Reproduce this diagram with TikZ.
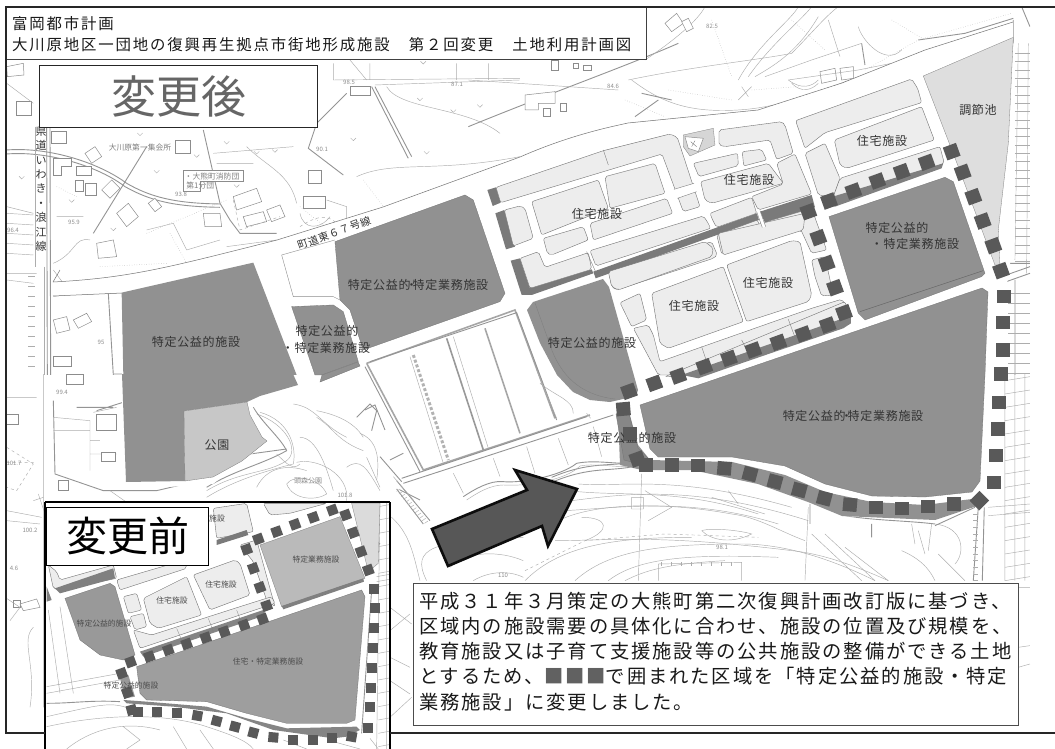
\documentclass[tikz,border=0pt]{standalone}
\usepackage{fontspec}
\setmainfont{Noto Sans CJK JP}
\newfontfamily\lsA[LetterSpace=10]{Noto Sans CJK JP}
\newfontfamily\lsB[LetterSpace=12]{Noto Sans CJK JP}
\newfontfamily\lsC[LetterSpace=6]{Noto Sans CJK JP}
\tikzset{
 zA/.style={shift={(0,0)},scale=0.3333},
 zB/.style={shift={(525,0)},scale=0.3333},
 zC/.style={shift={(0,374)},scale=0.3333},
 zD/.style={shift={(525,374)},scale=0.3333},
 zE/.style={shift={(470,130)},scale=0.3333},
 zF/.style={shift={(360,300)},scale=0.3333},
 zG/.style={shift={(40,500)},scale=0.3333},
 mapl/.style={draw=black!32,line width=0.45pt},
 mapd/.style={draw=black!42,line width=0.9pt},
 mapt/.style={draw=black!55,line width=1.6pt},
 bld/.style={draw=black!45,line width=0.5pt,fill=white},
 dkb/.style={fill=black!43,draw=black!55,line width=0.3pt},
 dks/.style={fill=black!43},
 lgt/.style={fill=black!7,draw=black!55,line width=0.4pt,rounded corners=2pt},
 mid/.style={fill=black!14,draw=black!50,line width=0.3pt},
 lab/.style={font=\lsC\fontsize{12}{14}\selectfont,text=black!80,inner sep=0pt},
 labs/.style={font=\fontsize{7.8}{9}\selectfont,text=black!70,inner sep=0pt},
 elev/.style={font=\fontsize{6}{7}\selectfont\itshape,text=black!45,inner sep=0pt},
 sq/.style={fill=black!65},
 boxw/.style={fill=white,draw=black!75,line width=0.8pt},
}
\begin{document}
\begin{tikzpicture}[x=1pt,y=-1pt]
\useasboundingbox (0,0) rectangle (1055,749);
\fill[white] (0,0) rectangle (1055,749);
\begin{scope}
\clip (7,7) rectangle (1030,733);
% ---------- base map, upper left
\begin{scope}[zA]
\draw[mapd] (20,450) .. controls (150,440) and (300,490) .. (380,550) .. controls (450,590) and (520,610) .. (660,612);
\draw[mapd] (20,462) .. controls (150,452) and (300,502) .. (375,560) .. controls (450,602) and (520,620) .. (660,622);
\draw[mapd] (140,380) -- (142,1125) (150,380) -- (152,1125);
\draw[mapl] (105,380) -- (105,800) (132,800) -- (132,1125);
\draw[mapd] (440,440) -- (280,700);
\draw[mapd] (610,390) -- (660,610) -- (690,660) -- (720,700) -- (830,700);
\draw[bld] (160,475)--(215,475)--(215,500)--(185,500)--(185,525)--(160,525)--cycle;
\draw[bld] (255,460)--(285,440)--(305,470)--(275,490)--cycle;
\draw[bld] (230,500)--(275,500)--(275,525)--(230,525)--cycle;
\draw[bld] (225,540)--(250,540)--(250,575)--(225,575)--cycle;
\draw[bld] (255,550)--(290,550)--(290,585)--(255,585)--cycle;
\draw[bld] (305,570)--(335,540)--(360,565)--(330,595)--cycle;
\draw[bld] (350,640)--(385,610)--(415,650)--(380,680)--cycle;
\draw[bld] (445,610)--(465,595)--(485,620)--(465,635)--cycle;
\draw[bld] (525,420)--(570,420)--(570,460)--(525,460)--cycle;
\draw[bld] (700,590)--(770,565)--(785,605)--(710,630)--cycle;
\draw[bld] (910,590)--(975,590)--(975,625)--(910,625)--cycle;
\draw[bld] (925,510)--(965,510)--(965,550)--(925,550)--cycle;
\draw[bld] (50,305)--(95,305)--(95,345)--(50,345)--cycle;
\draw[bld] (155,395)--(200,395)--(200,430)--(155,430)--cycle;
\draw[bld] (1050,258)--(1110,258)--(1110,285)--(1050,285)--cycle;
\draw[bld] (20,200)--(70,190)--(72,225)--(22,230)--cycle;
\draw[bld] (610,640)--(660,640)--(665,680)--(615,680)--cycle;
\draw[bld] (550,510)--(730,510)--(730,545)--(600,545)--(600,575)--(550,575)--cycle;
\draw[bld] (290,730)--(340,720)--(350,770)--(295,775)--cycle;
\draw[bld] (160,960)--(200,950)--(210,990)--(170,1000)--cycle;
\draw[bld] (220,960)--(260,940)--(275,965)--(235,985)--cycle;
\draw[bld] (160,1070)--(215,1070)--(215,1100)--(160,1100)--cycle;
\draw[bld] (730,650)--(790,635)--(800,665)--(740,680)--cycle;
\draw[bld] (800,630)--(840,615)--(855,650)--(815,665)--cycle;
\draw[mapl] (900,640) .. controls (910,690) and (960,690) .. (990,650) (980,600)--(1040,620)--(1040,680);
\draw[mapd] (1040,280)--(950,370)--(925,445)--(1030,525);
\draw[mapd] (1115,260)--(1225,475) (1125,260)--(1235,470);
\draw[mapl] (1125,255)--(1560,240) (1100,240)--(1050,180) (1160,260) .. controls (1200,330) and (1400,320) .. (1500,400);
\draw[mapl] (1000,190)--(1000,240)--(1560,235) (1370,190)--(1370,240) (1465,190)--(1465,240) (1110,190)--(1110,240);
\draw[mapl] (1070,530) .. controls (1180,480) and (1300,520) .. (1560,470);
\draw[mapl] (890,610) .. controls (870,520) and (800,500) .. (740,440) (640,460)--(880,440) (650,490)--(760,490);
\draw[mapl] (170,650)--(250,650) (270,720) .. controls (220,710) and (230,760) .. (160,790) (440,690)--(520,670)--(560,750)--(660,720);
\draw[mapl,dotted] (510,700)--(560,790) (300,800)--(500,790) (900,620)--(1000,700) (1090,540)--(1150,620) (170,560)--(230,590) (440,700)--(680,600);
\draw[mapl] (20,620)--(100,640) (20,820)--(110,820) (20,250)--(100,310) (20,840)--(100,850);
\foreach \y in {830,860,...,1120} {\draw[mapl] (85,\y)--(105,\y);}
\foreach \y in {640,670,...,760} {\draw[mapl] (20,\y)--(100,{\y+5});}
\draw[mapl] (160,810)--(190,850) (160,850)--(190,850) (680,740)--(830,720);
\draw[mapl,dashed] (700,600)--(720,690)--(840,650) (900,680) .. controls (960,640) and (1000,640) .. (1030,700);
\draw[mapd] (160,885)--(365,878) (325,880)--(340,1125);
\draw[mapl] (160,890)--(220,880);
\foreach \x/\y in {470,517/1,65,535/1,215,605/1,420,405/1} {}
\foreach \x/\y in {470/517,65/535,215/605,420/405,770/460,825/455,680/430,710/560,340/690,590/470,1060/420,1260/300,1360/335,1280/460,1440/320,1270/190}
 {\draw[mapl] (\x-8,\y-6)--(\x,\y+2)--(\x+8,\y-6);}
\end{scope}
% ---------- base map, upper right
\begin{scope}[zB]
\draw[mapd] (-170,380) .. controls (100,270) and (300,200) .. (460,130);
\draw[mapl] (-170,240)--(280,270) (320,240) .. controls (400,300) and (480,340) .. (640,330) .. controls (800,320) and (900,260) .. (1120,190);
\draw[mapl] (310,240) .. controls (500,200) and (700,180) .. (800,160) .. controls (860,100) and (900,50) .. (940,20);
\draw[mapl] (360,180) .. controls (450,120) and (520,60) .. (540,20);
\draw[mapl] (640,240) .. controls (700,130) and (800,60) .. (820,20) (670,230) .. controls (740,130) and (830,60) .. (860,20);
\draw[mapl] (690,230) .. controls (760,190) and (820,150) .. (880,50) (720,230)--(860,180)--(1010,130);
\draw[mapd] (350,280)--(440,300) (330,350)--(400,300);
\draw[bld] (420,70)--(455,40)--(475,70)--(440,95)--cycle;
\draw[bld] (470,65)--(490,55)--(505,85)--(485,95)--cycle;
\draw[bld] (885,215)--(930,205)--(935,240)--(890,250)--cycle;
\draw[bld] (945,205)--(985,200)--(985,235)--(950,240)--cycle;
\draw[bld] (0,285)--(90,275)--(90,310)--(40,310)--(40,330)--(0,330)--cycle;
\draw[bld] (55,325)--(75,325)--(75,350)--(55,350)--cycle;
\draw[bld] (105,310)--(125,310)--(125,335)--(105,335)--cycle;
\draw[bld] (80,180)--(100,180)--(100,210)--(80,210)--cycle;
\draw[bld] (145,190)--(160,190)--(160,205)--(145,205)--cycle;
\draw[bld] (175,195)--(200,195)--(200,210)--(175,210)--cycle;
\draw[mapd] (1010,130)--(1020,195) (1180,120)--(1320,100)--(1465,55);
\draw[mapl] (1000,80) .. controls (1010,120) and (1080,200) .. (1130,150) (790,240)--(1000,210)--(1100,190);
\draw[mapl] (910,60)--(945,170) (650,260)--(670,290) (640,300)--(680,260);
\draw[mapl] (790,240) .. controls (830,270) and (860,260) .. (880,240) (800,250) .. controls (830,280) and (860,270) .. (880,250);
\draw[mapl,dotted] (560,60)--(620,230) (800,60)--(900,150) (1180,120)--(1460,40) (1100,60)--(1200,120) (300,300)--(420,350) (430,270)--(620,300) (1020,210)--(1180,120) (680,270)--(820,260);
\draw[mapd] (1465,60)--(1465,130) (1490,20)--(1515,80);
\draw[mapl] (1480,130)--(1470,780) (1510,130)--(1505,820);
\foreach \y in {160,185,...,790} {\draw[mapl] (1470,\y)--(1515,\y);}
\draw[mapd] (1455,420)--(1420,690)--(1440,800) (1430,670)--(1450,680)--(1450,790)--(1515,790);
\draw[mapd] (1430,830)--(1515,800) (1430,850)--(1515,820) (1425,860)--(1415,1125) (1470,840)--(1470,1125);
\foreach \y in {880,910,...,1125} {\draw[mapl] (1450,\y)--(1515,\y);}
\end{scope}
% ---------- base map, lower left
\begin{scope}[zC]
\draw[mapd] (160,80)--(165,300)--(310,350)--(470,350)--(640,310)--(750,240)--(860,225);
\draw[mapd] (230,100)--(340,100) (340,0)--(385,0)--(385,80)--(290,110);
\draw[mapl] (160,130)--(270,140)--(270,290) (160,170)--(270,170) (270,240)--(350,240) (280,115)--(350,100) (270,200)--(300,200);
\draw[bld] (290,120)--(350,120)--(350,170)--(290,170)--cycle;
\draw[bld] (305,235)--(345,235)--(345,262)--(305,262)--cycle;
\draw[bld] (20,120)--(55,120)--(55,150)--(20,150)--cycle;
\draw[bld] (175,320)--(205,320)--(205,350)--(175,350)--cycle;
\draw[bld] (200,0)--(250,0)--(250,30)--(200,30)--cycle;
\draw[bld] (40,680)--(60,680)--(60,700)--(40,700)--cycle;
\draw[bld] (60,690)--(110,675)--(120,700)--(70,710)--cycle;
\draw[mapl] (20,70)--(110,70) (130,0)--(130,1000) (20,410)--(125,430) (20,440)--(120,450);
\draw[mapl,dashed] (20,220)--(100,270)--(50,350)--(20,340) (20,265)--(105,265);
\draw[mapl] (15,670)--(60,700)--(30,740) (100,760) .. controls (60,800) and (110,870) .. (90,1000);
\draw[mapl] (115,360)--(135,420) (330,350)--(380,385) (100,380)--(130,370);
\draw[mapl] (770,120) .. controls (860,150) and (900,230) .. (860,260) .. controls (800,300) and (720,290) .. (620,350);
\draw[mapd] (760,100) .. controls (790,150) and (840,190) .. (860,230) .. controls (790,270) and (700,290) .. (620,340);
\draw[mapl] (780,115) .. controls (870,140) and (890,220) .. (880,270) .. controls (800,290) and (700,320) .. (620,370);
\draw[mapl] (830,240) .. controls (860,270) and (880,290) .. (900,270);
\draw[mapl] (880,90) .. controls (950,100) and (960,150) .. (1040,190);
\draw[mapl] (950,130) .. controls (1000,160) and (1010,200) .. (1090,230);
\draw[mapl] (900,190) .. controls (950,190) and (980,280) .. (1000,350);
\draw[mapl] (860,330) .. controls (880,300) and (960,310) .. (980,360) .. controls (950,380) and (880,380) .. (860,330);
\draw[mapl] (890,265) .. controls (950,250) and (1050,300) .. (1040,380);
\draw[mapl] (770,340) .. controls (800,280) and (860,270) .. (920,290);
\draw[mapl] (1040,280) .. controls (1080,250) and (1100,280) .. (1140,350) (1100,250)--(1140,340);
\draw[mapd] (1070,130)--(1110,90)--(1130,110)--(1115,170);
\draw[mapl] (950,110) .. controls (1000,120) and (1060,140) .. (1090,190);
\draw[mapl] (1175,430) .. controls (1230,480) and (1240,540) .. (1260,620) (1280,620) .. controls (1230,520) and (1300,500) .. (1570,490) (1350,580) .. controls (1400,530) and (1500,530) .. (1570,560) (1420,620) .. controls (1470,590) and (1530,590) .. (1570,610);
\draw[mapl] (1170,700)--(1235,750) (1170,770)--(1230,720) (1170,850)--(1230,880) (1170,920)--(1230,960);
\draw[mapl] (1170,1030)--(1235,970);
\draw[mapd] (1190,320)--(1290,440) (1190,345)--(1270,450);
\foreach \k in {0,1,...,12} {\draw[mapl] ({1200+\k*7},{345+\k*8})--({1190+\k*7},{352+\k*8});}
\end{scope}
% ---------- base map, lower right
\begin{scope}[zD]
\draw[mapd] (80,310) .. controls (200,260) and (250,280) .. (340,262) (80,325) .. controls (200,275) and (250,295) .. (340,275);
\draw[mapl] (160,330) .. controls (300,340) and (450,300) .. (800,400) (140,380) .. controls (300,360) and (500,330) .. (850,440);
\draw[mapl] (100,440) .. controls (200,390) and (400,380) .. (620,420) .. controls (700,430) and (760,470) .. (840,500);
\draw[mapl] (90,500) .. controls (250,500) and (400,480) .. (800,530) .. controls (900,540) and (1000,580) .. (1090,620);
\draw[mapl] (0,620) .. controls (100,520) and (250,490) .. (500,490);
\draw[mapl] (150,620) .. controls (250,530) and (400,510) .. (650,510) .. controls (800,510) and (950,570) .. (1050,620);
\draw[mapl] (250,620) .. controls (340,550) and (500,540) .. (760,550) (300,620) .. controls (360,590) and (420,570) .. (600,560);
\draw[mapl] (180,500) .. controls (260,470) and (250,430) .. (170,430) (530,470) .. controls (560,460) and (650,470) .. (680,480) .. controls (620,510) and (560,500) .. (530,470);
\draw[mapl] (350,300)--(340,620) (320,370)--(355,370)--(355,405)--(320,405)--cycle (360,350)--(440,400)--(370,440) (560,370)--(720,420) (610,350)--(640,390);
\draw[mapl] (130,350) .. controls (300,370) and (450,340) .. (700,420) (120,410) .. controls (300,400) and (500,370) .. (760,450);
\draw[mapl,dashed] (0,590)--(180,500)--(420,480)--(700,490);
\draw[mapl] (400,570)--(650,565)--(650,620) (400,570)--(400,620);
\foreach \x in {410,440,...,640} {\draw[mapl] (\x,565)--(\x,575);}
\draw[mapd] (855,390)--(855,450) (1040,450)--(1040,490) (960,425) .. controls (1050,440) and (1150,440) .. (1230,450);
\draw[mapl] (850,400)--(840,620) (860,480)--(1010,620) (900,480)--(1050,620) (960,520)--(1090,620);
\draw[mapl] (1160,450)--(1170,510) (1220,450)--(1210,530) (1180,470)--(1200,540) (1230,450) .. controls (1320,460) and (1320,540) .. (1290,570);
\draw[mapd] (1230,455)--(1350,400);
\draw[mapl] (1130,530) .. controls (1200,560) and (1220,600) .. (1230,620) (1240,540)--(1320,620);
\draw[mapd] (1360,400)--(1345,620) (1378,400)--(1372,620);
\foreach \y in {420,440,...,620} {\draw[mapl] (1345,\y)--(1358,\y);}
\draw[mapl] (1390,400)--(1515,390) (1390,425)--(1515,415) (1440,0)--(1440,620) (1470,0)--(1470,620) (1500,0)--(1500,620);
\foreach \y in {20,60,...,620} {\draw[mapl] (1440,\y)--(1515,{\y-12});}
\draw[mapl] (1480,640)--(1515,640) (1480,820)--(1515,815) (1480,880)--(1515,870);
\end{scope}
% ---------- the site hides the old map
\fill[white] (53,282) .. controls (130,278) and (170,267) .. (277,240) -- (383,207) -- (520,157) .. controls (570,135) and (610,127) .. (628,123) -- (758,110) -- (842,83) -- (925,50) -- (1013,22) -- (1010,270) -- (1003,300) -- (1000,500) -- (980,505) -- (935,520) -- (842,516) -- (808,502) -- (758,484) -- (692,470) -- (642,470) -- (620,465) -- (613,415) -- (403,485) -- (366,365) -- (300,385) -- (250,402) -- (270,441) -- (242,461) -- (213,484) -- (122,490) -- (122,293) -- (53,296) -- cycle;
\draw[black!55,line width=0.5pt] (53,282) .. controls (130,278) and (170,267) .. (277,240) -- (383,207) -- (520,157) .. controls (570,135) and (610,127) .. (628,123) -- (758,110) -- (842,83) -- (925,50) -- (1013,22);
\draw[black!55,line width=0.5pt] (53,296) -- (122,293) (53,282) -- (60,270);
% ---------- paddies
\begin{scope}[zF]
\draw[mapt,draw=black!35] (20,190)--(465,30)--(585,355);
\draw[mapt,draw=black!35] (20,190)--(190,510)--(690,345);
\draw[mapd] (30,185)--(470,38)--(590,360) (15,200)--(180,515);
\draw[mapt,draw=black!40] (260,115)--(370,450);
\draw[mapt,draw=black!35] (375,85)--(480,400);
\draw[mapt,draw=black!30,line width=3pt,dotted] (160,165)--(265,480);
\draw[mapl] (280,110)--(385,445) (150,170)--(250,490);
\draw[mapd] (130,550)--(760,345) (125,535)--(680,350);
\draw[mapl] (680,340)--(692,355) (400,475)--(420,530) (500,440)--(525,520) (595,415)--(625,495) (700,380)--(725,470) (280,520)--(310,580);
\draw[mapd] (310,590) .. controls (340,570) and (390,540) .. (430,545) .. controls (480,550) and (600,530) .. (650,490) .. controls (700,480) and (750,490) .. (800,490);
\draw[mapl] (320,600) .. controls (350,580) and (390,555) .. (430,555) .. controls (500,560) and (620,540) .. (660,498) .. controls (700,490) and (750,500) .. (800,500);
\draw[mapd] (15,330)--(45,315)--(75,390);
\draw[mapd] (125,545)--(60,470) (90,480)--(130,460) (120,570)--(180,600);
\draw[mapl] (0,400) .. controls (50,420) and (60,470) .. (50,540) (100,530)--(160,600);
\draw[mapl] (530,210)--(590,355) (540,250) .. controls (590,290) and (640,300) .. (640,340);
\end{scope}
% ---------- land use: dark facilities
\begin{scope}[zA]
\fill[dks] (365,878)--(760,788)--(890,1125)--(875,1125)--(370,1125)--cycle;
\draw[dkb] (1005,725)--(1395,585)--(1420,600)--(1515,880)--(1500,905)--(1090,1050)--(1050,930)--(1020,900)--cycle;
\draw[dkb] (875,920)--(1000,915)--(1030,935)--(1075,1085)--(965,1125)--(945,1125)--cycle;
\draw[black!45,line width=0.4pt] (845,765)--(880,890)--(1000,890)--(1030,905) (845,765)--(1005,720);
\end{scope}
\fill[dks] (122,374)--(293,374)--(298,385)--(260,396)--(247,402)--(184,411)--(185,481)--(126,482)--cycle;
\draw[mid,fill=black!22] (184,411)--(247,402)--(250,415)--(262,437)--(267,441)--(242,461)--(213,477)--(185,481)--cycle;
\draw[dkb] (322,375)--(358,362)--(360,366)--(320,382)--cycle;
% big center dark
\fill[dks] (527,310)--(533,302)--(603,279)--(609,287)--(638,390)--(636,396)--(610,402)--(590,400)--(573,392)--(557,375)--(540,343)--cycle;
\draw[black!50,line width=0.4pt] (535,303)--(550,345) .. controls (560,375) and (580,395) .. (615,399);
% big south-east block
\draw[dkb] (640,405)--(982,288)--(988,292)--(985,374)--(980,481)--(972,492)--(925,497)--(872,496)--(825,484)--(785,466)--(732,457)--(658,457)--(650,449)--cycle;
\fill[dks] (618,412)--(628,408)--(638,445)--(650,460)--(732,462)--(785,475)--(825,492)--(872,502)--(925,505)--(972,499)--(980,505)--(935,520)--(842,516)--(808,502)--(758,484)--(692,470)--(642,470)--(620,465)--cycle;
\begin{scope}[zB]
% east dark block
\draw[dkb] (912,650)--(1260,532)--(1285,545)--(1380,820)--(1370,830)--(1020,960)--(1000,940)--cycle;
\draw[black!60,line width=0.5pt] (1005,935)--(1375,812);
% retention pond
\draw[mid,fill=black!13] (1195,228)--(1465,112)--(1450,430)--(1420,690)--(1425,795)--(1410,795)--(1300,500)--cycle;
% dark strips
\fill[black!52] (205,815)--(695,640)--(702,660)--(212,835)--cycle;
\fill[black!52] (705,635)--(860,585)--(870,622)--(720,668)--cycle;
\end{scope}
% ---------- residential blocks
\begin{scope}[zE]
\fill[black!52] (52,180)--(78,172)--(92,218)--(68,228)--cycle;
\fill[black!52] (76,250)--(103,240)--(135,350)--(108,358)--cycle;
\fill[black!52] (122,392)--(150,385)--(180,475)--(365,418)--(370,430)--(185,495)--(155,495)--cycle;
\draw[lgt] (78,172)--(400,62)--(600,12)--(622,22)--(690,230)--(640,245)--(576,72)--(92,218)--cycle;
\draw[lgt] (103,240)--(150,228)--(165,235)--(190,325)--(130,348)--cycle;
\draw[lgt] (150,385)--(205,365)--(225,412)--(355,368)--(365,418)--(180,475)--cycle;
\draw[lgt] (185,215)--(385,150)--(415,235)--(215,315)--cycle;
\draw[lgt] (405,140)--(555,100)--(585,190)--(420,235)--cycle;
\draw[lgt] (220,325)--(340,290)--(355,330)--(245,375)--(232,370)--cycle;
\draw[lgt] (360,280)--(590,205)--(608,250)--(370,330)--cycle;
\draw[lgt] (360,362)--(700,258)--(712,275)--(722,295)--(378,408)--cycle;
\draw[lgt] (418,432)--(725,335)--(742,375)--(730,385)--(440,480)--(425,470)--cycle;
\fill[white] (612,178)--(672,160)--(680,185)--(622,205)--cycle;
\draw[black!50,line width=0.4pt] (612,178)--(672,160) (622,205)--(680,185);
\draw[black!50,line width=0.4pt] (400,60)--(415,105) (350,365)--(378,428);
\end{scope}
\begin{scope}[zB]
\draw[mid,fill=black!16] (475,405)--(565,385)--(570,435)--(495,468)--(475,440)--cycle;
\draw[bld] (480,410)--(535,415)--(520,455)--(490,445)--cycle;
\draw[black!60,line width=0.3pt] (497,425)--(515,440) (510,422)--(500,440);
\draw[lgt] (582,390)--(770,365)--(780,375)--(805,460)--(755,478)--(735,420)--(600,440)--(582,435)--cycle;
\draw[lgt] (505,490)--(638,460)--(640,497)--(522,530)--cycle;
\draw[lgt] (652,455)--(710,448)--(725,480)--(656,498)--cycle;
\draw[lgt] (527,545)--(730,490)--(775,550)--(560,610)--(540,600)--cycle;
\draw[lgt] (755,490)--(810,462)--(860,582)--(700,630)--(680,590)--(775,552)--cycle;
\draw[lgt] (555,640)--(680,592)--(695,640)--(575,682)--(565,665)--cycle;
\draw[lgt] (575,705)--(698,660)--(715,715)--(590,762)--cycle;
\draw[lgt] (725,665)--(860,625)--(905,750)--(860,760)--(828,690)--(730,718)--cycle;
\draw[lgt] (380,880)--(595,800)--(655,965)--(430,1045)--(405,1030)--cycle;
\draw[lgt] (605,795)--(800,722)--(825,725)--(860,885)--(850,905)--(665,965)--cycle;
\draw[lgt] (285,908)--(345,880)--(365,960)--(320,980)--cycle;
\draw[lgt] (325,985)--(370,975)--(385,1005)--(405,1085)--(860,925)--(950,898)--(962,915)--(440,1125)--(400,1125)--(345,1022)--cycle;
\draw[lgt] (250,815)--(540,725)--(565,745)--(560,770)--(280,870)--(260,860)--cycle;
\draw[lgt] (580,700)--(840,640)--(835,690)--(595,765)--cycle;
\draw[lgt] (860,780)--(900,770)--(925,885)--(890,888)--(870,830)--cycle;
\draw[lgt] (812,362)--(1160,237)--(1178,265)--(1190,308)--(900,398)--(840,445)--cycle;
\draw[lgt] (840,460)--(900,430)--(945,535)--(925,590)--(880,585)--cycle;
\draw[lgt] (928,420)--(1190,320)--(1228,420)--(965,505)--(945,495)--cycle;
\draw[lgt] (945,535)--(1245,440)--(1258,490)--(940,605)--(925,590)--cycle;
\fill[black!50] (890,600)--(1255,490)--(1250,505)--(930,620)--cycle;
\draw[lgt] (420,1130)--(960,905)--(975,950)--(950,960)--(530,1125)--cycle;
\fill[black!50] (470,1125)--(955,955)--(978,950)--(978,970)--(955,985)--(620,1100)--(520,1135)--cycle;
\draw[black!50,line width=0.4pt] (790,958)--(815,1025) (650,1020)--(670,1060) (530,1040)--(550,1100);
\end{scope}
% white strips over strips
\begin{scope}[zB]
\fill[white] (695,635)--(705,632)--(722,680)--(712,683)--cycle;
\draw[black!55,line width=0.35pt] (695,635)--(712,683) (705,632)--(722,680);
\end{scope}
% ---------- west small block left of the big one
\draw[dkb,fill=black!47] (616,414)--(628,410)--(638,448)--(650,460)--(640,464)--(624,460)--cycle;
% ---------- squares of the changed zone
\foreach \x/\y/\a in {1280/455/20,1205/487/20,1130/515/20,1057/543/20,985/573/20,912/603/20,850/635/20,880/713/20,905/790/20,930/863/20,957/938/20,908/975/20,835/1002/20,760/1027/20,685/1050/20,612/1075/20,538/1100/20,460/1128/20,1313/517/20,1345/590/20,1373/663/20,1405/737/20,1428/812/20,1437/890/0,1435/968/0,1433/1050/0,1427/1122/0}
 {\fill[sq,shift={(525+\x/3,\y/3)},rotate=\a] (-7,-6.8) rectangle (7,6.8);}
\foreach \x/\y/\a in {1423/85/0,1418/165/0,1412/245/0,1407/325/0,1363/380/45,1288/390/0,1208/397/0,1130/403/0,1052/400/0,975/392/-5,898/373/-15,823/348/-15,750/323/-15,675/300/-15,598/283/-5,520/275/0,442/273/0,362/273/0,337/255/20,315/180/0,295/105/5,312/52/20,388/28/20}
 {\fill[sq,shift={(525+\x/3,374+\y/3)},rotate=\a] (-7,-6.8) rectangle (7,6.8);}
% ---------- arrow
\draw[fill=black!66,draw=black!95,line width=2.6pt,miter limit=10] (432,529)--(527,490)--(515,470)--(577,489)--(548,546)--(542,526)--(448,566)--cycle;
\end{scope}
% ---------- labels on the main map
\node[lab] at (418,285) {特定公益的\kern-5pt・\kern-5pt特定業務施設};
\node[lab] at (327,331) {特定公益的};
\node[lab] at (326,348) {・特定業務施設};
\node[lab] at (196,342) {特定公益的施設};
\node[lab] at (217,445) {公園};
\node[lab] at (592,343) {特定公益的施設};
\node[lab] at (632,438) {特定公益的施設};
\fill[sq] (624,428) rectangle (637,440);
\node[lab] at (853,416) {特定公益的\kern-5pt・\kern-5pt特定業務施設};
\node[lab] at (597,214) {住宅施設};
\node[lab] at (749,180) {住宅施設};
\node[lab] at (882,141) {住宅施設};
\node[lab] at (768,283) {住宅施設};
\node[lab] at (694,306) {住宅施設};
\node[lab] at (978,110) {調節池};
\node[lab] at (897,228) {特定公益的};
\node[lab] at (915,244) {・特定業務施設};
\node[lab,font=\lsC\fontsize{10.5}{12}\selectfont,rotate=20] at (334,233) {町道東６７号線};
\node[lab,font=\fontsize{11}{14.4}\selectfont,align=center] at (41,189) {県\\道\\い\\わ\\き\\・\\浪\\江\\線};
\node[labs,text=black!50] at (140,148) {大川原第一集会所};
\node[labs,text=black!50,align=left] at (212,181) {・大熊町消防団\\\ 第1分団};
\node[labs,text=black!45,font=\fontsize{7}{8}\selectfont] at (308,481) {頭森公園};
\node[elev] at (181,194) {93.8}; \node[elev] at (74,222) {95.9}; \node[elev] at (13,230) {96.4};
\node[elev] at (101,342) {95}; \node[elev] at (62,392) {99.4}; \node[elev] at (30,530) {100.2};
\node[elev] at (14,463) {101.7}; \node[elev] at (14,568) {4.6}; \node[elev] at (349,82) {98.5};
\node[elev] at (457,84) {87.1}; \node[elev] at (322,149) {90.1}; \node[elev] at (613,86) {84.6};
\node[elev] at (712,26) {82.5}; \node[elev] at (345,495) {101.8}; \node[elev] at (722,547) {98.1};
\node[elev] at (503,575) {110};
% ---------- title and change boxes
\draw[boxw] (6,7) rectangle (646,59);
\node[font=\lsB\fontsize{15.4}{18}\selectfont,anchor=west,inner sep=0pt,text=black!90] at (12,24) {富岡都市計画};
\node[font=\lsB\fontsize{15.4}{18}\selectfont,anchor=west,inner sep=0pt,text=black!90] at (12,45) {大川原地区一団地の復興再生拠点市街地形成施設　第２回変更　土地利用計画図};
\draw[fill=white,draw=black!85,line width=0.8pt] (39,65) rectangle (317,127);
\node[font=\fontsize{45}{48}\selectfont,text=black!60,inner sep=0pt] at (179,96) {変更後};
% ---------- inset
\begin{scope}
\clip (45,502) rectangle (390,749);
\fill[white] (45,502) rectangle (390,749);
\begin{scope}[zG]
% map
\draw[mapl] (20,560)--(240,520) (20,580)--(240,540) (60,320)--(100,580) (25,330)--(60,580);
\draw[mapl] (20,650) .. controls (200,610) and (220,600) .. (300,640);
\draw[mapl] (20,680) .. controls (200,640) and (380,640) .. (500,680) .. controls (560,700) and (620,720) .. (640,747);
\draw[mapl] (80,747) .. controls (150,690) and (250,660) .. (360,690) (250,680)--(300,720)--(260,747) (400,680)--(440,747) (480,690)--(520,747);
\draw[mapd] (20,610) .. controls (100,610) and (150,600) .. (240,605);
\draw[mapl] (730,720)--(800,747) (880,725)--(960,747) (990,715)--(1015,747);
\draw[mapl] (1020,0)--(1010,747) (1040,0)--(1040,747) (1060,0)--(1058,747) (1010,230)--(1065,220) (1010,245)--(1065,235);
\foreach \y in {20,60,...,740} {\draw[mapl] (1015,\y)--(1058,{\y-8});}
\draw[mapd] (1000,150)--(1000,200) (1000,150)--(1020,130);
\draw[mapd] (995,270)--(965,700);
% blocks
\draw[mid,fill=black!14] (935,10)--(1020,10)--(1015,190)--(985,215)--cycle;
\draw[lgt] (520,25)--(620,10)--(640,95)--(530,115)--cycle;
\fill[black!52] (530,120)--(620,90)--(625,105)--(530,135)--cycle;
\draw[lgt] (670,10)--(860,10)--(750,40)--(690,45)--cycle;
\draw[lgt] (25,195)--(50,215)--(60,240)--(220,195)--(230,235)--(60,270)--(40,265)--cycle;
\fill[black!50] (45,265)--(220,205)--(225,235)--(60,280)--cycle;
\fill[black!50] (20,260)--(35,300)--(20,305)--cycle;
\draw[lgt] (230,240)--(435,180)--(440,205)--(240,270)--cycle;
\draw[lgt] (600,135)--(650,120)--(705,320)--(680,300)--(640,185)--cycle;
\draw[lgt] (250,290)--(290,280)--(305,330)--(265,340)--cycle;
\draw[lgt] (270,350)--(310,340)--(320,380)--(285,390)--cycle;
\draw[lgt] (335,405)--(600,320)--(695,290)--(705,310)--(300,445)--(280,390)--cycle;
\draw[lgt] (310,295)--(440,230)--(485,345)--(355,385)--(330,370)--cycle;
\draw[lgt] (460,225)--(585,180)--(600,190)--(630,285)--(510,330)--cycle;
\fill[black!48] (300,455)--(670,330)--(678,345)--(310,470)--cycle;
\draw[black!50,line width=0.3pt] (410,385)--(425,420) (505,355)--(520,395) (590,330)--(605,370);
\draw[dkb,fill=black!40] (75,295)--(210,250)--(225,260)--(285,465)--(250,480)--(180,465)--(120,420)--(95,350)--cycle;
\draw[mid,fill=black!27] (660,135)--(900,50)--(975,235)--(725,320)--cycle;
\fill[black!50] (725,318)--(970,235)--(972,245)--(730,328)--cycle;
\draw[dkb,fill=black!38] (290,500)--(965,270)--(975,290)--(945,660)--(920,670)--(740,670)--(620,640)--(500,605)--(320,600)--(300,580)--cycle;
\fill[black!48] (250,600)--(320,605)--(500,620)--(620,655)--(740,685)--(950,680)--(960,690)--(920,710)--(880,715)--(700,690)--(560,640)--(400,620)--(260,610)--cycle;
\fill[black!40] (240,535)--(265,525)--(285,590)--(255,595)--cycle;
\end{scope}
\foreach \x/\y/\a in {877/30/20,820/52/20,765/73/20,710/95/20,655/117/20,620/148/20,640/205/20,660/262/20,680/317/20,668/357/20,612/375/20,553/395/20,497/413/20,440/432/20,385/450/20,328/470/20,272/486/20,245/520/20,262/578/20,917/45/20,940/98/20,963/155/20,985/210/20,1002/267/0,1005/325/0,1002/385/0,1000/445/0,997/505/0,993/563/0,990/622/0,985/685/0,935/710/-10,877/715/0,818/720/0,758/720/0,700/712/-5,640/698/-15,585/680/-15,530/663/-15,472/647/-10,412/640/0,352/637/0,293/637/0,275/630/15}
 {\fill[sq,shift={(40+\x/3,500+\y/3)},rotate=\a] (-5,-5) rectangle (5,5);}
\node[labs] at (217,519) {施設};
\node[labs] at (316,560) {特定業務施設};
\node[labs] at (172,601) {住宅施設};
\node[labs] at (221,585) {住宅施設};
\node[labs] at (104,624) {特定公益的施設};
\node[labs] at (131,686) {特定公益的施設};
\node[labs] at (268,662) {住宅・特定業務施設};
\end{scope}
\draw[black,line width=1.5pt] (45,502) -- (390,502) (45,502) -- (45,749) (390,502) -- (390,749);
\draw[fill=white,draw=black,line width=0.9pt] (46,507) rectangle (208,565);
\node[font=\fontsize{41}{44}\selectfont,inner sep=0pt,text=black] at (128,536) {変更前};
% ---------- outer frame
\draw[black!85,line width=1.1pt] (45,733) -- (6,733) -- (6,7) -- (1055,7);
\draw[black!85,line width=1.1pt] (390,733) -- (1055,733);
% ---------- explanation
\draw[fill=white,draw=black!70,line width=0.7pt] (413,583) rectangle (1018,725);
\begin{scope}[every node/.style={font=\lsA\fontsize{19.3}{22}\selectfont,anchor=west,inner sep=0pt,text=black!90}]
\node at (419,601) {平成３１年３月策定の大熊町第二次復興計画改訂版に基づき、};
\node at (419,626) {区域内の施設需要の具体化に合わせ、施設の位置及び規模を、};
\node at (419,651) {教育施設又は子育て支援施設等の公共施設の整備ができる土地};
\node at (419,676) {とするため、{\color{black!62}■■■}で囲まれた区域を「特定公益的施設・特定};
\node at (419,702) {業務施設」に変更しました。};
\end{scope}
\end{tikzpicture}
\end{document}
